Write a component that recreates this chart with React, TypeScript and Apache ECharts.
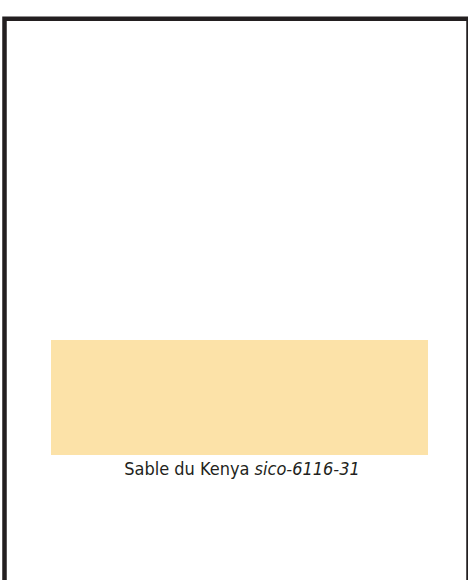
import React, { useEffect, useRef } from "react";
import * as echarts from "echarts";

const swatchNames = ["Sable du Kenya"];
const swatchCodes = ["sico-6116-31"];
const swatchColors = ["#FCE2A8"];
const swatchValues = [1];

export default function App() {
  const ref = useRef<HTMLDivElement>(null);
  useEffect(() => {
    if (!ref.current) return;
    const chart = echarts.init(ref.current, undefined, { renderer: "svg" });
    const font = "'DejaVu Sans Condensed', 'Roboto', sans-serif";
    chart.setOption({
      animation: false,
      backgroundColor: "#ffffff",
      grid: { left: 51, right: 40, top: 340, height: 115 },
      xAxis: { type: "category", data: swatchNames, show: false },
      yAxis: { type: "value", min: 0, max: 1, show: false },
      series: [
        {
          type: "bar",
          data: swatchValues.map((v, i) => ({ value: v, itemStyle: { color: swatchColors[i] } })),
          barWidth: "100%",
          silent: true,
        },
      ],
      graphic: [
        {
          type: "rect",
          shape: { x: 4.5, y: 18.7, width: 464, height: 620 },
          style: { fill: "none", stroke: "#231F20", lineWidth: 4.5 },
        },
        {
          type: "text",
          x: 242,
          y: 468,
          style: {
            text: `{a|${swatchNames[0]} }{b|${swatchCodes[0]}}`,
            align: "center",
            verticalAlign: "middle",
            rich: {
              a: { fontFamily: font, fontSize: 18, fill: "#231F20" },
              b: { fontFamily: font, fontSize: 18, fontStyle: "italic", fill: "#231F20" },
            },
          },
        },
      ],
    });
    return () => chart.dispose();
  }, []);
  return <div ref={ref} style={{ position: "absolute", left: 0, top: 0, width: 468, height: 580 }} />;
}
